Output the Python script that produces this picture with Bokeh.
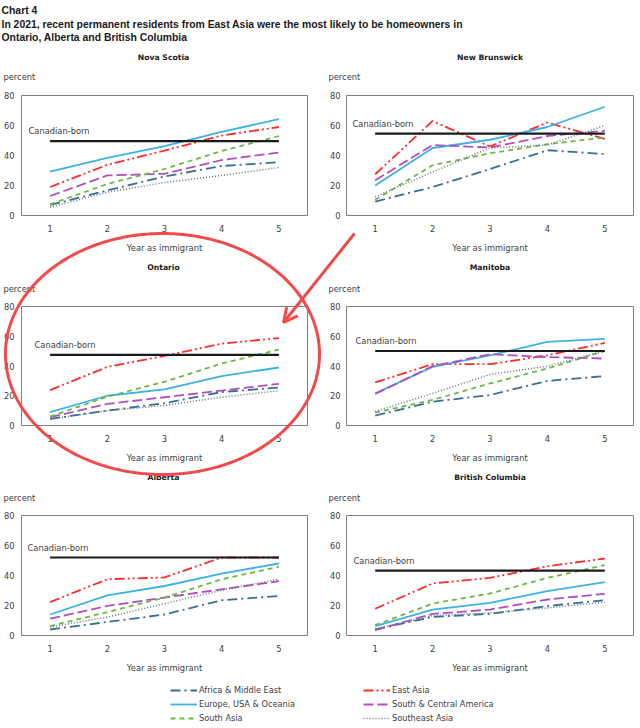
import numpy as np
from bokeh.plotting import figure
from bokeh.models import (Range1d, FixedTicker, Label, Legend, LegendItem, Arrow, OpenHead)
from bokeh.layouts import column, row
from bokeh.embed import file_html
from bokeh.resources import INLINE

# ---------------- data ----------------
years = [1, 2, 3, 4, 5]
provinces = ["Nova Scotia", "New Brunswick", "Ontario", "Manitoba", "Alberta", "British Columbia"]
y_ticks = [0, 20, 40, 60, 80]

canadian_born = [49.6, 54.6, 47.5, 50.1, 52.0, 43.3]

# each list: one row per province (same order as provinces), values for years 1..5
africa_middle_east = [
    [7.0, 16.7, 26.0, 33.0, 35.5],
    [9.3, 19.0, 31.0, 43.5, 41.0],
    [4.5, 10.0, 15.0, 22.5, 25.5],
    [6.7, 16.0, 20.5, 30.0, 33.2],
    [4.0, 9.0, 14.0, 23.5, 26.4],
    [4.0, 12.4, 14.4, 19.6, 23.6],
]
east_asia = [
    [19.0, 33.8, 43.3, 53.3, 59.0],
    [27.5, 63.0, 46.0, 62.0, 51.0],
    [23.8, 39.4, 46.8, 55.0, 58.8],
    [29.0, 41.2, 41.2, 47.2, 55.5],
    [22.3, 37.5, 38.7, 52.0, 52.0],
    [17.8, 34.7, 38.4, 46.2, 51.3],
]
europe_usa_oceania = [
    [29.3, 38.4, 46.2, 55.8, 64.2],
    [20.0, 45.0, 50.5, 59.0, 72.5],
    [9.0, 20.0, 24.3, 33.2, 39.0],
    [21.6, 39.4, 47.2, 56.2, 58.2],
    [14.0, 26.8, 33.0, 41.3, 48.0],
    [6.2, 17.3, 21.8, 29.6, 35.6],
]
south_central_america = [
    [13.0, 26.7, 27.8, 37.0, 42.0],
    [23.5, 47.0, 45.3, 53.0, 56.5],
    [5.6, 14.5, 19.0, 23.5, 28.0],
    [21.2, 39.9, 47.9, 46.0, 45.0],
    [11.2, 19.7, 25.3, 30.8, 36.2],
    [3.6, 14.4, 17.3, 24.0, 27.8],
]
south_asia = [
    [7.5, 21.0, 31.0, 43.0, 53.0],
    [10.5, 33.5, 41.5, 47.5, 52.0],
    [6.0, 19.4, 29.4, 41.7, 51.0],
    [8.7, 17.2, 28.3, 38.3, 50.1],
    [6.3, 15.6, 25.3, 37.5, 45.8],
    [6.9, 21.3, 28.0, 38.4, 46.9],
]
southeast_asia = [
    [5.5, 15.5, 22.0, 26.7, 32.0],
    [12.5, 29.0, 45.0, 47.0, 60.0],
    [4.2, 10.0, 13.5, 19.0, 23.4],
    [9.4, 21.6, 34.3, 39.9, 50.1],
    [5.6, 12.3, 21.2, 30.2, 37.5],
    [4.4, 13.3, 15.1, 18.4, 22.2],
]

series_names = ["Africa & Middle East", "East Asia", "Europe, USA & Oceania",
                "South & Central America", "South Asia", "Southeast Asia"]
series_values = [africa_middle_east, east_asia, europe_usa_oceania,
                 south_central_america, south_asia, southeast_asia]

# ---------------- styles ----------------
series_colors = ["#3A6F8F", "#FF2A2A", "#3DB2E6", "#B04FC0", "#6DB845", "#5F7385"]
series_dash = ["10 4 2 4", "10 3 2 3 2 3", "solid", "10 4", "5 4", "1 2"]
series_width = [1.8, 1.8, 1.8, 1.8, 1.8, 1.5]

FONT = "DejaVu Sans"
TXT = "#404040"

row_top = [50, 260, 465]
row_h = [210, 205, 212]
frame_top = [95, 306, 515]
FRAME_H = 120
TOP_PAD = 6
col_left = [0, 320]
frame_left = [19, 346]
frame_w = [288, 287]
cb_label_dx = [7, 6, 13, 9, 6, 7]
title_y = [57, 267, 477]
unit_y = [76, 288, 497]
unit_x = [3, 328]

# hand-drawn highlight (page pixel geometry)
ELL_C = (162, 353.5)
ELL_R = (157, 120.5)
ARROW_FROM = (354, 233)
ARROW_TO = (283, 322)
RED = "#F04A4A"


def make_header(r):
    """Full-width strip above a row of panels, holding the panel titles and unit labels."""
    hh = frame_top[r] - row_top[r] - TOP_PAD
    h = figure(width=640, height=hh, x_range=Range1d(0, 640), y_range=Range1d(hh, 0),
               output_backend="svg", toolbar_location=None, min_border=0,
               x_axis_location=None, y_axis_location=None)
    h.grid.visible = False
    h.outline_line_color = None
    for c in (0, 1):
        i = 2 * r + c
        cx = frame_left[c] + frame_w[c] / 2
        h.add_layout(Label(x=cx, y=title_y[r] - row_top[r], text=provinces[i], text_font=FONT,
                           text_font_size="7.7px", text_font_style="bold", text_color="#1A1A1A",
                           text_align="center", text_baseline="middle"))
        h.add_layout(Label(x=unit_x[c], y=unit_y[r] - row_top[r], text="percent",
                           text_font=FONT, text_font_size="8.3px", text_color=TXT,
                           text_align="left", text_baseline="middle"))
    return h


def make_panel(i):
    r, c = i // 2, i % 2
    fl = frame_left[c] - col_left[c]
    fw = frame_w[c]
    hb = row_h[r] - (frame_top[r] - row_top[r]) - FRAME_H
    h = TOP_PAD + FRAME_H + hb

    p = figure(width=320, height=h, x_range=Range1d(0.5, 5.5), y_range=Range1d(0, 80),
               output_backend="svg", toolbar_location=None,
               min_border_left=fl, min_border_right=320 - fl - fw,
               min_border_top=TOP_PAD, min_border_bottom=hb)
    p.grid.visible = False
    p.outline_line_color = "#7F7F7F"
    p.outline_line_width = 1
    p.background_fill_color = "white"
    p.border_fill_color = "white"

    p.xaxis.ticker = FixedTicker(ticks=years)
    p.yaxis.ticker = FixedTicker(ticks=y_ticks)
    for ax in (p.xaxis, p.yaxis):
        ax.axis_line_color = None
        ax.major_tick_line_color = None
        ax.minor_tick_line_color = None
        ax.major_tick_out = 0
        ax.major_tick_in = 0
        ax.minor_tick_out = 0
        ax.minor_tick_in = 0
        ax.major_label_text_font = FONT
        ax.major_label_text_font_size = "8.3px"
        ax.major_label_text_color = TXT
    p.xaxis.major_label_standoff = 9
    p.yaxis.major_label_standoff = 7 if c == 0 else 6
    p.xaxis.axis_label = "Year as immigrant"
    p.xaxis.axis_label_text_font = FONT
    p.xaxis.axis_label_text_font_size = "8.3px"
    p.xaxis.axis_label_text_font_style = "normal"
    p.xaxis.axis_label_text_color = TXT
    p.xaxis.axis_label_standoff = 8

    for name, vals, col, dash, lw in zip(series_names, series_values, series_colors,
                                         series_dash, series_width):
        p.line(years, vals[i], line_color=col, line_dash=dash, line_width=lw)

    p.line([years[0], years[-1]], [canadian_born[i], canadian_born[i]],
           line_color="#1A1A1A", line_width=2.2)
    p.add_layout(Label(x=0.5, y=canadian_born[i], x_offset=cb_label_dx[i], y_offset=10,
                       text="Canadian-born", text_font=FONT, text_font_size="8.3px",
                       text_color=TXT, text_baseline="middle", text_align="left"))
    return p


panels = [make_panel(i) for i in range(6)]
headers = [make_header(r) for r in range(3)]

# ---------------- title ----------------
tp = figure(width=640, height=50, x_range=Range1d(0, 640), y_range=Range1d(50, 0),
            output_backend="svg", toolbar_location=None, min_border=0,
            x_axis_location=None, y_axis_location=None)
tp.grid.visible = False
tp.outline_line_color = None
for txt, yy in [("Chart 4", 10),
                ("In 2021, recent permanent residents from East Asia were the most likely to be homeowners in", 24),
                ("Ontario, Alberta and British Columbia", 37)]:
    tp.add_layout(Label(x=1, y=yy, text=txt, text_font="Liberation Sans", text_font_size="10.4px",
                        text_font_style="bold", text_color="#1A1A1A", text_baseline="middle"))

# ---------------- legend ----------------
lp = figure(width=640, height=728 - sum(row_h) - 50, x_range=Range1d(0, 1), y_range=Range1d(0, 1),
            output_backend="svg", toolbar_location=None, min_border=0,
            x_axis_location=None, y_axis_location=None)
lp.grid.visible = False
lp.outline_line_color = None
rends = []
for name, col, dash, lw in zip(series_names, series_colors, series_dash, series_width):
    rends.append(lp.line([5, 6], [5, 6], line_color=col, line_dash=dash, line_width=lw))

for idxs, xloc in [([0, 2, 4], 170), ([1, 3, 5], 363)]:
    lg = Legend(items=[LegendItem(label=series_names[k], renderers=[rends[k]]) for k in idxs],
                location=(xloc, 3), orientation="vertical", padding=0, margin=0, spacing=0,
                glyph_width=27, glyph_height=14, label_height=14, label_standoff=2,
                label_text_font=FONT, label_text_font_size="8.2px", label_text_color=TXT,
                border_line_color=None, background_fill_alpha=0)
    lp.add_layout(lg)

layout = column(tp,
                headers[0], row(panels[0], panels[1]),
                headers[1], row(panels[2], panels[3]),
                headers[2], row(panels[4], panels[5]),
                lp)

# ---------------- hand-drawn highlight overlay (page pixel space) ----------------
ov = figure(width=640, height=728, x_range=Range1d(0, 640), y_range=Range1d(728, 0),
            output_backend="svg", toolbar_location=None, min_border=0,
            x_axis_location=None, y_axis_location=None,
            styles={"position": "absolute", "left": "0px", "top": "0px",
                    "z-index": "10", "pointer-events": "none"})
ov.grid.visible = False
ov.outline_line_color = None
ov.background_fill_color = None
ov.border_fill_color = None
t = np.linspace(0, 2 * np.pi, 241)
ov.line(ELL_C[0] + ELL_R[0] * np.cos(t), ELL_C[1] + ELL_R[1] * np.sin(t),
        line_color=RED, line_width=3)
ov.add_layout(Arrow(x_start=ARROW_FROM[0], y_start=ARROW_FROM[1], x_end=ARROW_TO[0],
                    y_end=ARROW_TO[1], line_color=RED, line_width=3,
                    end=OpenHead(size=14, line_color=RED, line_width=3)))

open("out.html", "w").write(file_html([layout, ov], INLINE))
